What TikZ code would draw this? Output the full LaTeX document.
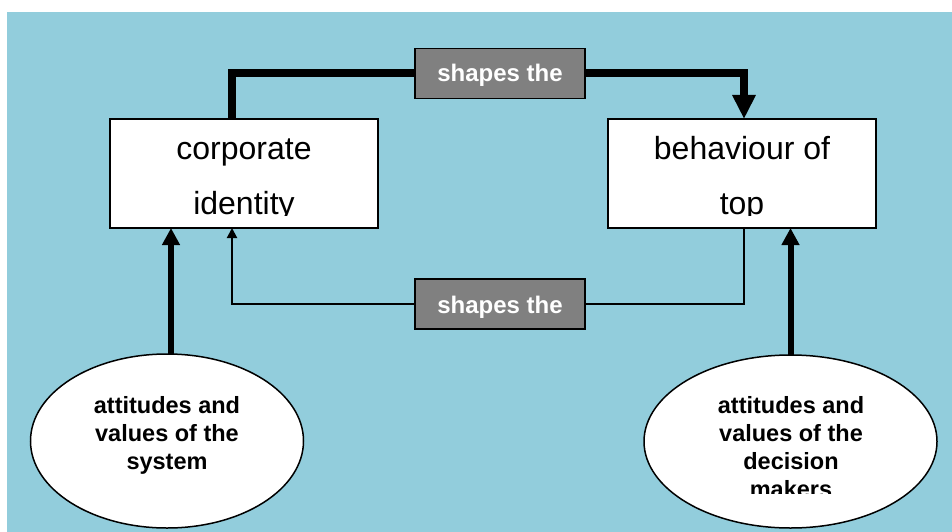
\documentclass[tikz,border=0pt]{standalone}
\usepackage{fontspec}
\setmainfont{Liberation Sans}
\usetikzlibrary{arrows.meta,shapes.geometric}
\definecolor{bgblue}{RGB}{146,205,220}
\definecolor{taggray}{RGB}{128,128,128}
\begin{document}
\begin{tikzpicture}[x=1pt,y=-1pt,
  box/.style={draw,fill=white,line width=1.5pt,inner sep=0pt,outer sep=0pt,
    minimum width=268pt,minimum height=109pt},
  oval/.style={ellipse,draw,fill=white,line width=1.5pt,inner sep=0pt,outer sep=0pt},
  tag/.style={draw,fill=taggray,line width=1.5pt,inner sep=0pt,outer sep=0pt,
    minimum width=170pt,minimum height=50pt},
  boxtext/.style={anchor=base,inner sep=0pt,font=\fontsize{32}{38}\selectfont},
  ovaltext/.style={anchor=base,inner sep=0pt,font=\fontsize{23.5}{28}\selectfont\bfseries},
  tagtext/.style={anchor=base,inner sep=0pt,text=white,font=\fontsize{24}{28}\selectfont\bfseries},
  heavy/.style={line width=8pt},
  heavytip/.style={heavy,-{Triangle[width=22pt,length=24pt]}},
  uptip/.style={line width=6pt,-{Triangle[width=17pt,length=17pt]}},
  thintip/.style={line width=2pt,-{Triangle[width=10pt,length=10pt]}},
]
\useasboundingbox (0,0) rectangle (952,532);
\fill[bgblue] (7,12) rectangle (952,532);

% boxes and ovals
\node[box] (ci) at (244,173.5) {};
\node[box] (bt) at (742,173.5) {};
\node[oval,minimum width=273pt,minimum height=174pt] (es) at (167,441) {};
\node[oval,minimum width=293pt,minimum height=173pt] (ed) at (790.5,441.5) {};

% labels on the two loops
\node[tag] (t1) at (500,73.5) {};
\node[tag] (t2) at (500,304) {};
\node[tagtext] (t1a) at (500,82) {shapes the};
\node[tagtext] (t2a) at (500,313) {shapes the};

% box texts, cut off above the lower edge
\begin{scope}
  \clip (ci.north west) rectangle ([yshift=13pt]ci.south east);
  \node[boxtext] (ci1) at (244,159) {corporate};
  \node[boxtext] (ci2) at (244,214) {identity};
\end{scope}
\begin{scope}
  \clip (bt.north west) rectangle ([yshift=13pt]bt.south east);
  \node[boxtext] (bt1) at (742,159) {behaviour of};
  \node[boxtext] (bt2) at (742,214) {top};
\end{scope}

% oval texts
\node[ovaltext] (es1) at (167,413) {attitudes and};
\node[ovaltext] (es2) at (167,441) {values of the};
\node[ovaltext] (es3) at (167,469) {system};
\begin{scope}
  \clip (ed.west |- 0,340) rectangle (ed.east |- 0,493);
  \node[ovaltext] (ed1) at (791,413) {attitudes and};
  \node[ovaltext] (ed2) at (791,441) {values of the};
  \node[ovaltext] (ed3) at (791,469) {decision};
  \node[ovaltext] (ed4) at (791,497) {makers};
\end{scope}

% upper loop: identity shapes behaviour
\draw[heavy] ([xshift=-12pt]ci.north) |- (t1.west);
\draw[heavytip] (t1.east) -| ([xshift=2pt]bt.north);

% lower loop: behaviour shapes identity
\draw[line width=2pt] ([xshift=2pt]bt.south) |- (t2.east);
\draw[thintip] (t2.west) -| ([xshift=-12pt]ci.south);

% attitudes feeding the boxes
\coordinate (lu) at ([xshift=4pt]es.north);
\draw[uptip] (lu) -- (lu |- ci.south);
\draw[uptip] (ed.north) -- (ed.north |- bt.south);
\end{tikzpicture}
\end{document}
